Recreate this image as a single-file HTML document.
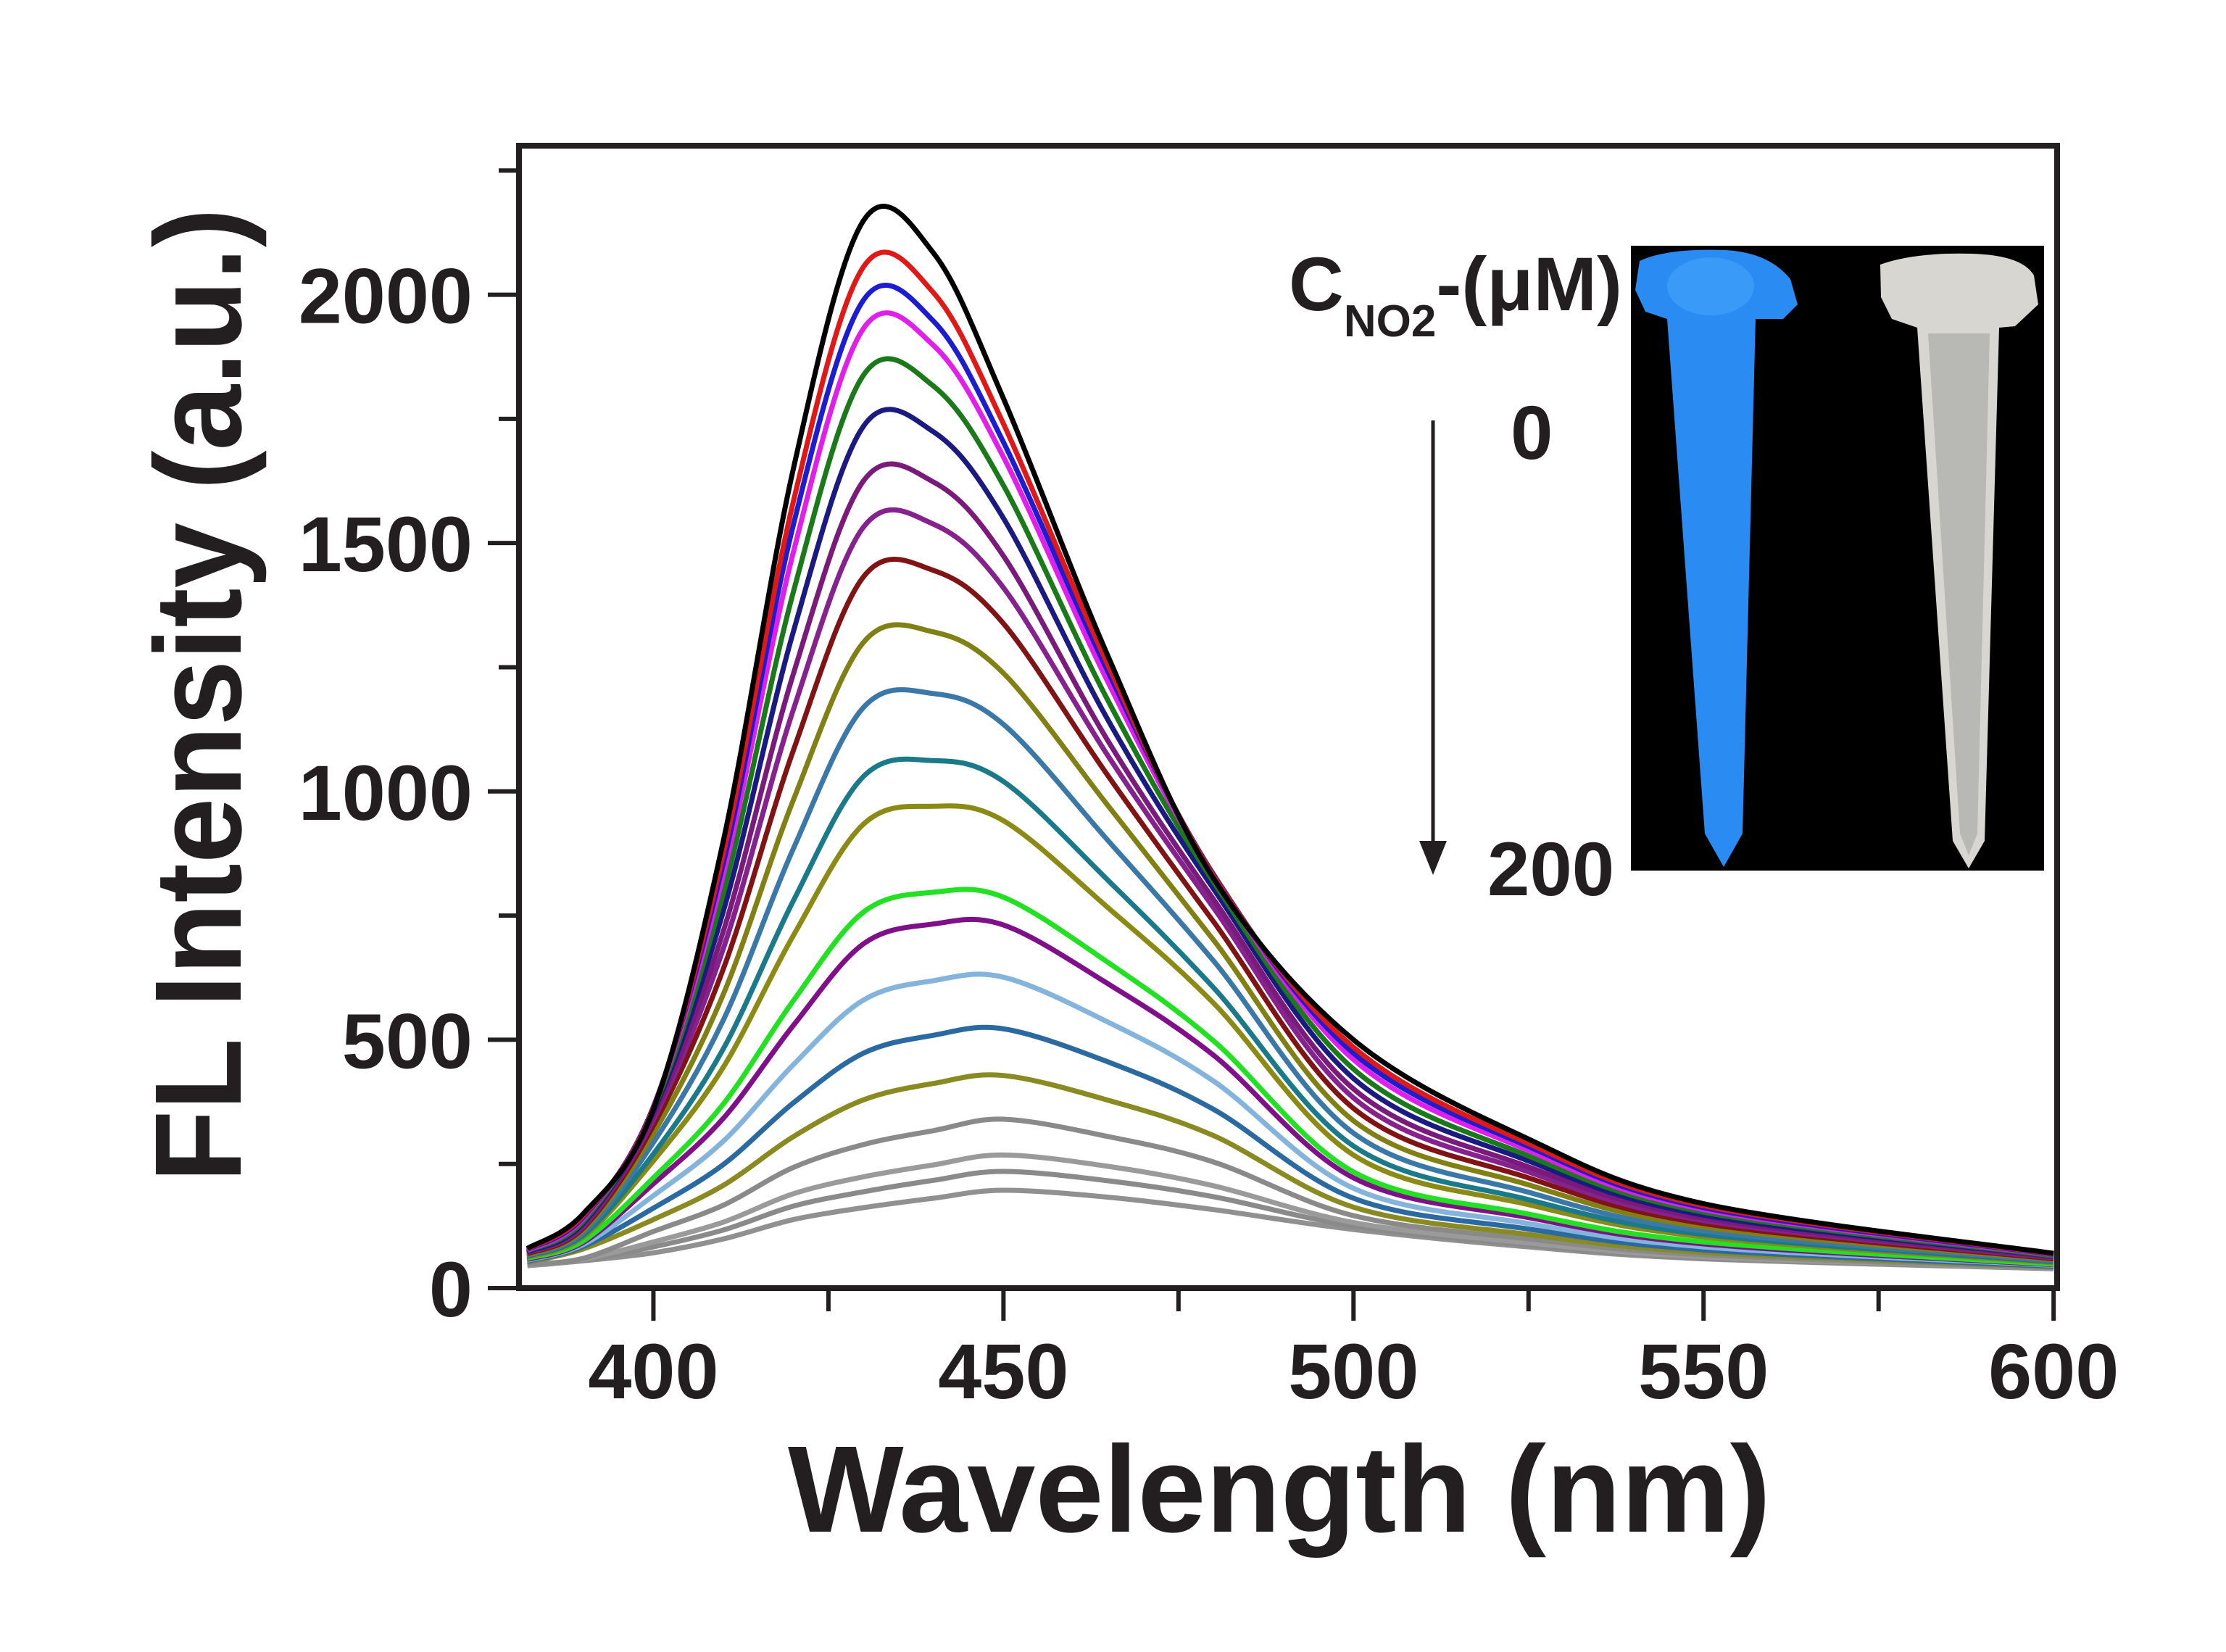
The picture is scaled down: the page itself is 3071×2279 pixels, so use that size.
<!DOCTYPE html>
<html><head><meta charset="utf-8"><style>
html,body{margin:0;padding:0;background:#fff;}
svg{display:block;}
text{font-family:"Liberation Sans",sans-serif;font-weight:bold;fill:#231f20;}
</style></head><body>
<svg id="chart" width="3071" height="2279" viewBox="0 0 3071 2279" xmlns="http://www.w3.org/2000/svg">
<rect x="0" y="0" width="3071" height="2279" fill="#fff"/>
<g id="curves"></g>
<rect x="716" y="201" width="2122" height="1576" fill="none" stroke="#231f20" stroke-width="8"/>
<g id="xticks"></g>
<g id="yticks"></g>
<text x="1087" y="2113" font-size="170" textLength="1356" lengthAdjust="spacingAndGlyphs">Wavelength (nm)</text>
<text transform="translate(332,1631) rotate(-90)" x="0" y="0" font-size="170" textLength="1344" lengthAdjust="spacingAndGlyphs">FL Intensity (a.u.)</text>

<g>
  <rect x="2250" y="339" width="570" height="862" fill="#000"/>
  <g>
    <path d="M2262 360 Q2300 342 2380 345 Q2440 348 2470 385 L2480 420 L2460 440 L2422 440 L2404 1150 L2378 1196 L2352 1150 L2300 440 L2270 430 L2256 400 Z" fill="#2a8cf2"/>
    <ellipse cx="2360" cy="395" rx="60" ry="40" fill="#3a9af8"/>
  </g>
  <g>
    <path d="M2594 365 Q2640 348 2720 350 Q2790 352 2806 380 L2812 420 L2780 450 L2758 452 L2738 1160 L2716 1198 L2694 1160 L2645 452 L2610 440 L2595 410 Z" fill="#d8d6d0"/>
    <path d="M2660 460 L2745 460 L2728 1150 L2716 1180 L2704 1150 Z" fill="#b8b8b4"/>
  </g>
</g>
<text x="1778" y="428" font-size="105">C<tspan font-size="62" dy="36">NO2</tspan><tspan dy="-36">-(μM)</tspan></text>
<text x="2084" y="633" font-size="105">0</text>
<text x="2052" y="1235" font-size="105">200</text>
<line x1="1977" y1="580" x2="1977" y2="1170" stroke="#231f20" stroke-width="5"/>
<polygon points="1958,1160 1996,1160 1977,1207" fill="#231f20"/>
</svg>
<script>
const wavelengths=[382,390,400,410,420,430,440,450,465,480,500,525,550,600];
const s01=[80,150,360,901,1650,2149,2084,1791,1270,825,500,300,170,70];
const s02=[79,146,363,875,1584,2056,2004,1740,1252,830,485,291,166,69];
const s03=[78,143,365,856,1537,1989,1947,1703,1239,833,473,285,162,68];
const s04=[76,140,364,833,1482,1932,1898,1673,1218,830,460,277,158,67];
const s05=[75,135,360,796,1402,1838,1816,1616,1181,818,441,266,153,65];
const s06=[73,131,355,759,1322,1735,1724,1550,1142,804,422,256,147,64];
const s07=[72,127,346,719,1237,1625,1623,1474,1100,783,401,244,141,62];
const s08=[71,125,339,684,1165,1532,1538,1410,1070,766,383,234,136,61];
const s09=[69,121,327,643,1083,1432,1445,1338,1030,738,362,222,130,59];
const s10=[67,117,311,592,983,1300,1321,1238,970,701,337,208,123,57];
const s11=[66,112,293,540,885,1169,1197,1135,900,659,312,193,115,55];
const s12=[64,107,270,482,780,1030,1062,1020,820,605,286,178,108,53];
const s13=[62,103,256,445,710,934,970,941,765,574,268,168,103,51];
const s14=[60,95,222,371,579,757,797,787,655,498,234,149,93,48];
const s15=[58,92,210,342,529,693,733,731,612,469,222,142,89,47];
const s16=[56,88,186,296,450,580,619,626,535,417,201,130,83,46];
const s17=[54,84,161,249,373,473,509,522,455,360,181,119,77,44];
const s18=[52,79,138,207,305,379,412,428,378,307,163,108,72,43];
const s19=[48,60,114,167,243,289,317,340,305,254,146,99,67,41];
const s20=[46,58,93,133,190,224,248,268,245,206,132,91,63,40];
const s21=[46,56,83,117,165,194,217,235,216,184,125,87,61,40];
const s22=[45,55,71,99,138,162,181,197,183,158,118,83,59,39];
const seriesList=[s01,s02,s03,s04,s05,s06,s07,s08,s09,s10,s11,s12,s13,s14,s15,s16,s17,s18,s19,s20,s21,s22];
const seriesColors=["#000000","#e01818","#1c1cd0","#e020e8","#1a7a1a","#1a1a80","#7a1a7a","#86228e","#801414","#808014","#3a78a8","#1a7a8a","#8a8a14","#22e022","#80108a","#84b4dc","#2a6aa0","#8a8a22","#8a8a8a","#9a9a9a","#8a8a8a","#909090"];
const xTickLabels=["400","450","500","550","600"];
const xTickValues=[400,450,500,550,600];
const yTickLabels=["0","500","1000","1500","2000"];
const yTickValues=[0,500,1000,1500,2000];

const NS="http://www.w3.org/2000/svg";
const X0=380.8,X1=600.5,Y0=0,Y1=2300;
const PL=716,PR=2838,PT=201,PB=1777;
function xs(v){return PL+(v-X0)/(X1-X0)*(PR-PL);}
function ys(v){return PB-(v-Y0)/(Y1-Y0)*(PB-PT);}
function pathFor(vals){
  const p=wavelengths.map((w,i)=>[xs(w),ys(vals[i])]);
  let d="M"+p[0][0].toFixed(1)+" "+p[0][1].toFixed(1);
  for(let i=0;i<p.length-1;i++){
    const a=p[Math.max(0,i-1)],b=p[i],c=p[i+1],e=p[Math.min(p.length-1,i+2)];
    const c1=[b[0]+(c[0]-a[0])/6,b[1]+(c[1]-a[1])/6];
    const c2=[c[0]-(e[0]-b[0])/6,c[1]-(e[1]-b[1])/6];
    d+=" C"+c1[0].toFixed(1)+" "+c1[1].toFixed(1)+" "+c2[0].toFixed(1)+" "+c2[1].toFixed(1)+" "+c[0].toFixed(1)+" "+c[1].toFixed(1);
  }
  return d;
}
const cg=document.getElementById("curves");
for(let k=seriesList.length-1;k>=0;k--){
  const el=document.createElementNS(NS,"path");
  el.setAttribute("d",pathFor(seriesList[k]));
  el.setAttribute("fill","none");
  el.setAttribute("stroke",seriesColors[k]);
  el.setAttribute("stroke-width","7");
  el.setAttribute("stroke-linejoin","round");
  
  
  cg.appendChild(el);
}
const xg=document.getElementById("xticks");
for(let v=400;v<=600;v+=25){
  const major=(v%50===0);
  const t=document.createElementNS(NS,"line");
  t.setAttribute("x1",xs(v));t.setAttribute("x2",xs(v));
  t.setAttribute("y1",PB);t.setAttribute("y2",PB+(major?45:32));
  t.setAttribute("stroke","#231f20");t.setAttribute("stroke-width","6");
  
  
  xg.appendChild(t);
}
xTickValues.forEach((v,i)=>{
  const t=document.createElementNS(NS,"text");
  t.setAttribute("x",xs(v));t.setAttribute("y",1929);
  t.setAttribute("font-size","108");t.setAttribute("text-anchor","middle");
  t.textContent=xTickLabels[i];
  
  
  xg.appendChild(t);
});
const yg=document.getElementById("yticks");
for(let v=0;v<=2250;v+=250){
  const major=(v%500===0);
  const t=document.createElementNS(NS,"line");
  t.setAttribute("x1",PL);t.setAttribute("x2",PL-(major?43:28));
  t.setAttribute("y1",ys(v));t.setAttribute("y2",ys(v));
  t.setAttribute("stroke","#231f20");t.setAttribute("stroke-width","6");
  
  
  yg.appendChild(t);
}
yTickValues.forEach((v,i)=>{
  const t=document.createElementNS(NS,"text");
  t.setAttribute("x",652);t.setAttribute("y",ys(v)+39);
  t.setAttribute("font-size","108");t.setAttribute("text-anchor","end");
  t.textContent=yTickLabels[i];
  
  
  yg.appendChild(t);
});
</script>
</body></html>
